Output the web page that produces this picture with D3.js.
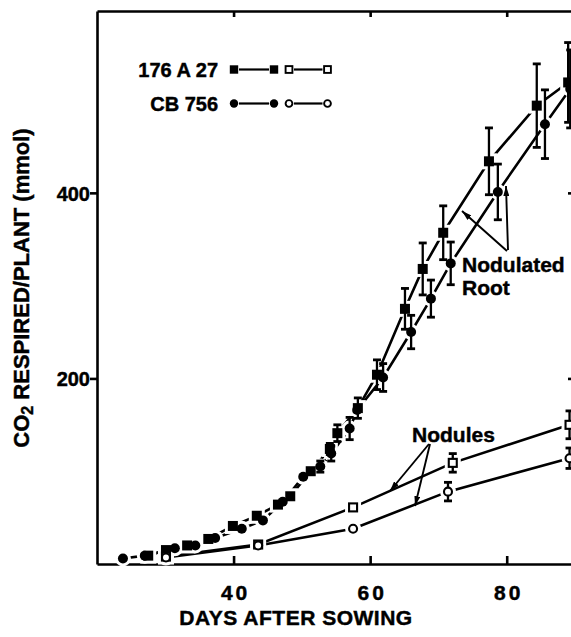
<!DOCTYPE html>
<html>
<head>
<meta charset="utf-8">
<script src="https://cdn.jsdelivr.net/npm/d3@7/dist/d3.min.js"></script>
<style>
  html, body { margin: 0; padding: 0; background: #fff; }
  svg { display: block; }
  text { font-family: "Liberation Sans", Arial, Helvetica, sans-serif; font-weight: bold; fill: #000; stroke: #000; stroke-width: 0.45px; }
</style>
</head>
<body>
<svg id="chart" width="571" height="637"></svg>
<script>
// ---- data: CO2 respired per plant (mmol) vs days after sowing ----
// Nodulated root, strain 176 A 27 (filled squares)
const root176Days = [27.5, 30.1, 33.2, 36.3, 39.9, 43.4, 46.5, 48.3, 51.3, 54.1, 55.2, 58.2, 61.0, 65.1, 67.7, 70.7, 77.4, 84.4, 89.0];
const root176Vals = [9, 15, 20, 27, 41, 52, 64, 73, 100, 124, 141, 168, 204, 275, 318, 357, 434, 494, 519];
const root176Err  = [0, 0, 0, 0, 0, 0, 0, 0, 0, 6, 9, 11, 16, 22, 28, 29, 36, 45, 43];
// Nodulated root, strain CB 756 (filled circles)
const rootCBDays = [23.8, 27.0, 31.4, 34.4, 37.3, 41.2, 44.3, 47.2, 50.2, 52.7, 54.3, 57.0, 58.1, 61.9, 66.0, 68.9, 71.8, 78.7, 85.6, 89.3];
const rootCBVals = [6, 9, 17, 20, 28, 38, 47, 67, 94, 105, 119, 146, 166, 201, 250, 286, 324, 401, 474, 512];
const rootCBErr  = [0, 0, 0, 0, 0, 0, 0, 0, 0, 6, 8, 12, 0, 15, 18, 20, 23, 30, 37, 42];
// Nodules, strain 176 A 27 (open squares)
const nod176Days = [30.1, 43.6, 57.5, 72.1, 89.2];
const nod176Vals = [8, 21, 61, 109, 150];
const nod176Err  = [0, 0, 0, 10, 15];
// Nodules, strain CB 756 (open circles)
const nodCBDays = [30.1, 43.6, 57.5, 71.4, 89.2];
const nodCBVals = [7, 20, 38, 78, 114];
const nodCBErr  = [0, 0, 0, 10, 11];

const xTicks = [40, 60, 80];
const yTicks = [200, 400];
const legendLabels = ["176 A 27", "CB 756"];

// ---- layout ----
const svg = d3.select("#chart");
const x = d3.scaleLinear().domain([20, 90]).range([97, 575]);
const y = d3.scaleLinear().domain([0, 596]).range([564, 11]);

const zip = (ds, vs, es) => ds.map((d, i) => ({ d, v: vs[i], e: es[i] }));
const series = [
  { key: "r176", pts: zip(root176Days, root176Vals, root176Err), shape: "square", filled: true },
  { key: "rCB",  pts: zip(rootCBDays, rootCBVals, rootCBErr),   shape: "circle", filled: true },
  { key: "n176", pts: zip(nod176Days, nod176Vals, nod176Err),   shape: "square", filled: false },
  { key: "nCB",  pts: zip(nodCBDays, nodCBVals, nodCBErr),      shape: "circle", filled: false }
];

const SW = 2.6;

// ---- axes / frame ----
const axB = svg.append("g").attr("transform", `translate(0,${y(0)})`)
  .call(d3.axisBottom(x).tickValues(xTicks).tickSize(-8).tickSizeOuter(0).tickPadding(21));
const axT = svg.append("g").attr("transform", `translate(0,${y(596)})`)
  .call(d3.axisTop(x).tickValues(xTicks).tickSize(-6).tickSizeOuter(0).tickFormat(""));
const axL = svg.append("g").attr("transform", `translate(${x(20)},0)`)
  .call(d3.axisLeft(y).tickValues(yTicks).tickSize(7).tickSizeOuter(0).tickPadding(0));
const axR = svg.append("g").attr("transform", `translate(${x(90)},0)`)
  .call(d3.axisRight(y).tickValues(yTicks).tickSize(-7).tickSizeOuter(0).tickFormat(""));

[axB, axT, axL, axR].forEach(g => {
  g.select(".domain").attr("stroke", "#000").attr("stroke-width", SW);
  g.selectAll(".tick line").attr("stroke", "#000").attr("stroke-width", SW);
  g.selectAll("text").attr("font-size", 21).attr("font-family", null).attr("fill", "#000");
});
axB.selectAll(".tick text").style("letter-spacing", "3px").attr("dx", "1.5");
axL.selectAll(".tick text").attr("font-size", 20).attr("dy", "0.36em");

// axis titles
svg.append("text").attr("x", 296).attr("y", 625).attr("text-anchor", "middle")
  .attr("font-size", 21).style("letter-spacing", "0.5px").text("DAYS AFTER SOWING");

const yl = svg.append("text").attr("transform", "translate(29,288) rotate(-90)")
  .attr("text-anchor", "middle").attr("font-size", 22);
yl.append("tspan").text("CO");
yl.append("tspan").attr("font-size", 16).attr("dy", 4).text("2");
yl.append("tspan").attr("dy", -4).text(" RESPIRED/PLANT (mmol)");

// ---- marks ----
const line = d3.line().x(p => x(p.d)).y(p => y(p.v));
const R = 5, S = 10;

function marker(g, p, s, extra) {
  const cx = x(p.d), cy = y(p.v);
  if (s.shape === "circle") {
    return g.append("circle").attr("cx", cx).attr("cy", cy).attr("r", R + extra);
  }
  const h = S / 2 + extra;
  return g.append("rect").attr("x", cx - h).attr("y", cy - h).attr("width", 2 * h).attr("height", 2 * h);
}

const gLines = svg.append("g");
const gHalo = svg.append("g");
const gErr = svg.append("g");
const gPts = svg.append("g");

series.forEach(s => {
  gLines.append("path").datum(s.pts).attr("d", line)
    .attr("fill", "none").attr("stroke", "#000").attr("stroke-width", SW);
  s.pts.forEach(p => marker(gHalo, p, s, 3).attr("fill", "#fff"));
  s.pts.filter(p => p.e > 0).forEach(p => {
    const cx = x(p.d), y0 = y(p.v - p.e), y1 = y(p.v + p.e);
    gErr.append("line").attr("x1", cx).attr("x2", cx).attr("y1", y0).attr("y2", y1)
      .attr("stroke", "#000").attr("stroke-width", 2.3);
    [y0, y1].forEach(yy => gErr.append("line").attr("x1", cx - 4).attr("x2", cx + 4)
      .attr("y1", yy).attr("y2", yy).attr("stroke", "#000").attr("stroke-width", 2.8));
  });
  s.pts.forEach(p => {
    if (s.filled) marker(gPts, p, s, 0).attr("fill", "#000");
    else marker(gPts, p, s, -1).attr("fill", "#fff").attr("stroke", "#000").attr("stroke-width", 2.1);
  });
});

// ---- legend ----
const legendRows = [
  { label: legendLabels[0], shape: "square", y: 69.5 },
  { label: legendLabels[1], shape: "circle", y: 103.5 }
];
const gLeg = svg.append("g");
legendRows.forEach(r => {
  gLeg.append("text").attr("x", 218).attr("y", r.y + 7.5).attr("text-anchor", "end")
    .attr("font-size", 20).text(r.label);
  const xs = [[234, 274, true], [289, 327.5, false]];
  xs.forEach(([a, b, filled]) => {
    gLeg.append("line").attr("x1", a + 5).attr("x2", b - 5).attr("y1", r.y).attr("y2", r.y)
      .attr("stroke", "#000").attr("stroke-width", 2.2);
    [a, b].forEach(cx => {
      const el = r.shape === "circle"
        ? gLeg.append("circle").attr("cx", cx).attr("cy", r.y).attr("r", filled ? 4.2 : 3.4)
        : gLeg.append("rect").attr("x", cx - (filled ? 4.2 : 3.4)).attr("y", r.y - (filled ? 4.2 : 3.4))
            .attr("width", filled ? 8.4 : 6.8).attr("height", filled ? 8.4 : 6.8);
      if (filled) el.attr("fill", "#000");
      else el.attr("fill", "#fff").attr("stroke", "#000").attr("stroke-width", 1.9);
    });
  });
});

// ---- annotations ----
const defs = svg.append("defs");
defs.append("marker").attr("id", "arrow").attr("viewBox", "0 0 10 6")
  .attr("refX", 10).attr("refY", 3).attr("markerWidth", 10).attr("markerHeight", 6)
  .attr("markerUnits", "userSpaceOnUse").attr("orient", "auto")
  .append("path").attr("d", "M0,0 L10,3 L0,6 Z").attr("fill", "#000");

function arrow(x1, y1, x2, y2) {
  svg.append("line").attr("x1", x1).attr("y1", y1).attr("x2", x2).attr("y2", y2)
    .attr("stroke", "#000").attr("stroke-width", 1.9).attr("marker-end", "url(#arrow)");
}

svg.append("text").attr("x", 462).attr("y", 272).attr("font-size", 21).text("Nodulated");
svg.append("text").attr("x", 462).attr("y", 295).attr("font-size", 21).text("Root");
arrow(507, 251, 462, 211);
arrow(508, 250, 506, 186);

svg.append("text").attr("x", 412).attr("y", 442).attr("font-size", 21).text("Nodules");
arrow(429, 444, 390, 491);
arrow(430, 444, 415, 506);
</script>
</body>
</html>
